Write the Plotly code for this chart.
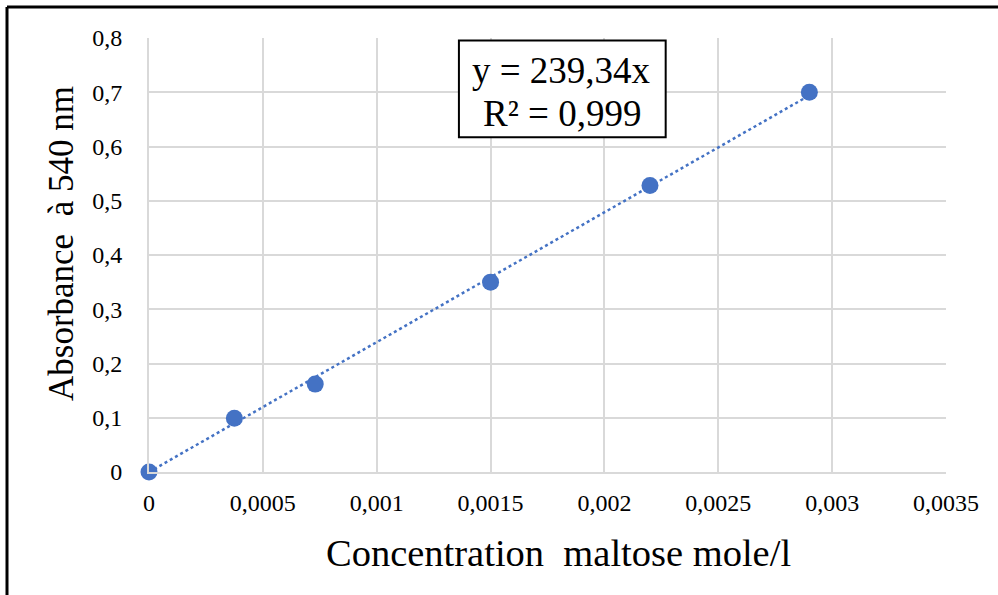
import plotly.graph_objects as go

# Data
concentration = [0, 0.000375, 0.00073, 0.0015, 0.0022, 0.0029]
absorbance = [0, 0.099, 0.162, 0.35, 0.528, 0.70]
slope = 239.34
trend_x = [0, 0.0029]
trend_y = [slope * v for v in trend_x]

x_tickvals = [0, 0.0005, 0.001, 0.0015, 0.002, 0.0025, 0.003, 0.0035]
x_ticktext = ["0", "0,0005", "0,001", "0,0015", "0,002", "0,0025", "0,003", "0,0035"]
y_tickvals = [0, 0.1, 0.2, 0.3, 0.4, 0.5, 0.6, 0.7, 0.8]
y_ticktext = ["0", "0,1", "0,2", "0,3", "0,4", "0,5", "0,6", "0,7", "0,8"]

x_title = "Concentration  maltose mole/l"
y_title = "Absorbance  à 540 nm"

W, H = 998, 595
ML, MR, MT, MB = 149, 52, 38, 123
pw, ph = W - ML - MR, H - MT - MB

font = "Liberation Serif"
blue = "#4472C4"
grid = "#D9D9D9"


def px_to_paper_x(px):
    return (px - ML) / pw


def px_to_paper_y(py):
    return (H - MB - py) / ph


fig = go.Figure()
fig.add_trace(go.Scatter(x=trend_x, y=trend_y, mode="lines",
                         line=dict(color=blue, width=2.5, dash="dot"),
                         hoverinfo="skip", showlegend=False, cliponaxis=False))
fig.add_trace(go.Scatter(x=concentration, y=absorbance, mode="markers",
                         marker=dict(color=blue, size=17), showlegend=False,
                         cliponaxis=False))

fig.update_layout(
    width=W, height=H,
    margin=dict(l=ML, r=MR, t=MT, b=MB),
    paper_bgcolor="white", plot_bgcolor="white",
    font=dict(family=font, color="#000000"),
    showlegend=False,
)
fig.update_xaxes(range=[0, 0.0035], tickvals=x_tickvals, ticktext=x_ticktext,
                 showgrid=True, gridcolor=grid, gridwidth=2,
                 zeroline=False, showline=True, linecolor=grid, linewidth=2,
                 tickfont=dict(size=24, family=font), ticklabelstandoff=8)
fig.update_yaxes(range=[0, 0.8], tickvals=y_tickvals, ticktext=y_ticktext,
                 showgrid=True, gridcolor=grid, gridwidth=2,
                 zeroline=False, showline=True, linecolor=grid, linewidth=2,
                 tickfont=dict(size=24, family=font), ticklabelstandoff=20)

# Axis titles
fig.add_annotation(x=px_to_paper_x(558), y=px_to_paper_y(553), xref="paper", yref="paper",
                   xanchor="center", yanchor="middle",
                   text=x_title, showarrow=False,
                   font=dict(size=38.5, family=font, color="#000000"))
fig.add_annotation(x=px_to_paper_x(61), y=px_to_paper_y(244), xref="paper", yref="paper",
                   xanchor="center", yanchor="middle",
                   text=y_title, showarrow=False, textangle=-90,
                   font=dict(size=35, family=font, color="#000000"))

# Equation box
fig.add_shape(type="rect", xref="x", yref="y",
              x0=0.001361, x1=0.002269, y0=0.617, y1=0.7956,
              fillcolor="white", line=dict(color="black", width=2), layer="above")
fig.add_annotation(x=0.001813, y=0.740, xref="x", yref="y",
                   xanchor="center", yanchor="middle",
                   text="y = 239,34x", showarrow=False,
                   font=dict(size=37, family=font, color="#000000"))
fig.add_annotation(x=0.001813, y=0.661, xref="x", yref="y",
                   xanchor="center", yanchor="middle",
                   text="R² = 0,999", showarrow=False,
                   font=dict(size=37, family=font, color="#000000"))

# Outer frame (top and left edges visible)
fig.add_shape(type="line", xref="paper", yref="paper",
              x0=px_to_paper_x(7), x1=px_to_paper_x(1010),
              y0=px_to_paper_y(7), y1=px_to_paper_y(7),
              line=dict(color="black", width=3))
fig.add_shape(type="line", xref="paper", yref="paper",
              x0=px_to_paper_x(7), x1=px_to_paper_x(7),
              y0=px_to_paper_y(7), y1=px_to_paper_y(610),
              line=dict(color="black", width=3))

fig.write_html("out.html")
